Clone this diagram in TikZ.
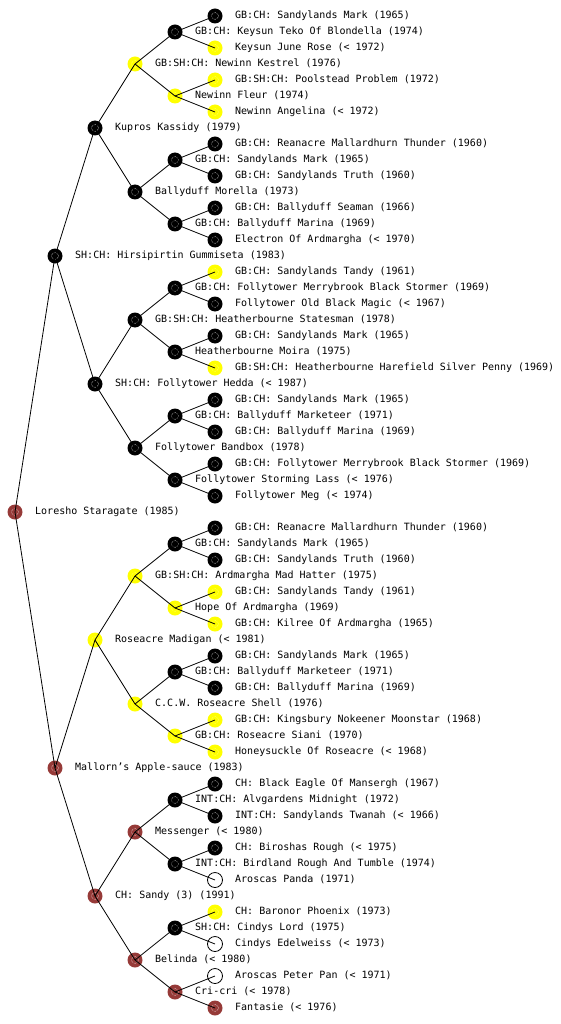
\documentclass[tikz,border=0pt]{standalone}
\usepackage{fontspec}
\setmonofont{DejaVu Sans Mono}
\definecolor{nred}{RGB}{150,58,56}
\definecolor{nyel}{RGB}{255,255,0}
\tikzset{
  dot/.style={circle,inner sep=0pt,minimum size=15pt},
  blk/.style={dot,fill=black,path picture={\draw[white,densely dotted,line width=.5pt] (path picture bounding box.center) circle (3.5pt);}},
  yel/.style={dot,fill=nyel,path picture={\draw[white!60!nyel,densely dotted,line width=.5pt] (path picture bounding box.center) circle (3.5pt);}},
  red/.style={dot,fill=nred,path picture={\draw[white,densely dotted,line width=.5pt] (path picture bounding box.center) circle (3.5pt);}},
  wht/.style={dot,fill=white,draw=black,line width=.8pt},
  lab/.style={anchor=west,inner sep=0pt,text height=7.5pt,text depth=2.5pt,font=\ttfamily\fontsize{10}{12}\selectfont},
  edge/.style={draw=black,line width=.8pt}
}
\begin{document}
\begin{tikzpicture}[x=1pt,y=-1pt]
\useasboundingbox (0,0) rectangle (560,1024);
% generation 5
\foreach \c/\t [count=\k from 0] in {
 blk/GB:CH: Sandylands Mark (1965),
 yel/Keysun June Rose (< 1972),
 yel/GB:SH:CH: Poolstead Problem (1972),
 yel/Newinn Angelina (< 1972),
 blk/GB:CH: Reanacre Mallardhurn Thunder (1960),
 blk/GB:CH: Sandylands Truth (1960),
 blk/GB:CH: Ballyduff Seaman (1966),
 blk/Electron Of Ardmargha (< 1970),
 yel/GB:CH: Sandylands Tandy (1961),
 blk/Follytower Old Black Magic (< 1967),
 blk/GB:CH: Sandylands Mark (1965),
 yel/GB:SH:CH: Heatherbourne Harefield Silver Penny (1969),
 blk/GB:CH: Sandylands Mark (1965),
 blk/GB:CH: Ballyduff Marina (1969),
 blk/GB:CH: Follytower Merrybrook Black Stormer (1969),
 blk/Follytower Meg (< 1974),
 blk/GB:CH: Reanacre Mallardhurn Thunder (1960),
 blk/GB:CH: Sandylands Truth (1960),
 yel/GB:CH: Sandylands Tandy (1961),
 yel/GB:CH: Kilree Of Ardmargha (1965),
 blk/GB:CH: Sandylands Mark (1965),
 blk/GB:CH: Ballyduff Marina (1969),
 yel/GB:CH: Kingsbury Nokeener Moonstar (1968),
 yel/Honeysuckle Of Roseacre (< 1968),
 blk/CH: Black Eagle Of Mansergh (1967),
 blk/INT:CH: Sandylands Twanah (< 1966),
 blk/CH: Biroshas Rough (< 1975),
 wht/Aroscas Panda (1971),
 yel/CH: Baronor Phoenix (1973),
 wht/Cindys Edelweiss (< 1973),
 wht/Aroscas Peter Pan (< 1971),
 red/Fantasie (< 1976)}
{
 \pgfmathsetmacro\yy{16*(2*\k+1)}
 \node[\c] (g5-\k) at (215,\yy) {};
 \node[lab] (t5-\k) at (235,\yy) {\t};
}
% generation 4
\foreach \c/\t [count=\k from 0] in {
 blk/GB:CH: Keysun Teko Of Blondella (1974),
 yel/Newinn Fleur (1974),
 blk/GB:CH: Sandylands Mark (1965),
 blk/GB:CH: Ballyduff Marina (1969),
 blk/GB:CH: Follytower Merrybrook Black Stormer (1969),
 blk/Heatherbourne Moira (1975),
 blk/GB:CH: Ballyduff Marketeer (1971),
 blk/Follytower Storming Lass (< 1976),
 blk/GB:CH: Sandylands Mark (1965),
 yel/Hope Of Ardmargha (1969),
 blk/GB:CH: Ballyduff Marketeer (1971),
 yel/GB:CH: Roseacre Siani (1970),
 blk/INT:CH: Alvgardens Midnight (1972),
 blk/INT:CH: Birdland Rough And Tumble (1974),
 blk/SH:CH: Cindys Lord (1975),
 red/Cri-cri (< 1978)}
{
 \pgfmathsetmacro\yy{32*(2*\k+1)}
 \node[\c] (g4-\k) at (175,\yy) {};
 \node[lab] (t4-\k) at (195,\yy) {\t};
}
% generation 3
\foreach \c/\t [count=\k from 0] in {
 yel/GB:SH:CH: Newinn Kestrel (1976),
 blk/Ballyduff Morella (1973),
 blk/GB:SH:CH: Heatherbourne Statesman (1978),
 blk/Follytower Bandbox (1978),
 yel/GB:SH:CH: Ardmargha Mad Hatter (1975),
 yel/C.C.W. Roseacre Shell (1976),
 red/Messenger (< 1980),
 red/Belinda (< 1980)}
{
 \pgfmathsetmacro\yy{64*(2*\k+1)}
 \node[\c] (g3-\k) at (135,\yy) {};
 \node[lab] (t3-\k) at (155,\yy) {\t};
}
% generation 2
\foreach \c/\t [count=\k from 0] in {
 blk/Kupros Kassidy (1979),
 blk/SH:CH: Follytower Hedda (< 1987),
 yel/Roseacre Madigan (< 1981),
 red/CH: Sandy (3) (1991)}
{
 \pgfmathsetmacro\yy{128*(2*\k+1)}
 \node[\c] (g2-\k) at (95,\yy) {};
 \node[lab] (t2-\k) at (115,\yy) {\t};
}
% generation 1
\node[blk] (g1-0) at (55,256) {};
\node[lab] (t1-0) at (75,256) {SH:CH: Hirsipirtin Gummiseta (1983)};
\node[red] (g1-1) at (55,768) {};
\node[lab] (t1-1) at (75,768) {Mallorn’s Apple-sauce (1983)};
% root
\node[red] (g0-0) at (15,512) {};
\node[lab] (t0-0) at (35,512) {Loresho Staragate (1985)};
% connectors
\foreach \g/\pg/\n in {1/0/1,2/1/3,3/2/7,4/3/15,5/4/31}{
 \foreach \k in {0,...,\n}{
  \pgfmathtruncatemacro\p{floor(\k/2)}
  \draw[edge] (g\pg-\p.center) -- (g\g-\k.center);
 }
}
\end{tikzpicture}
\end{document}
